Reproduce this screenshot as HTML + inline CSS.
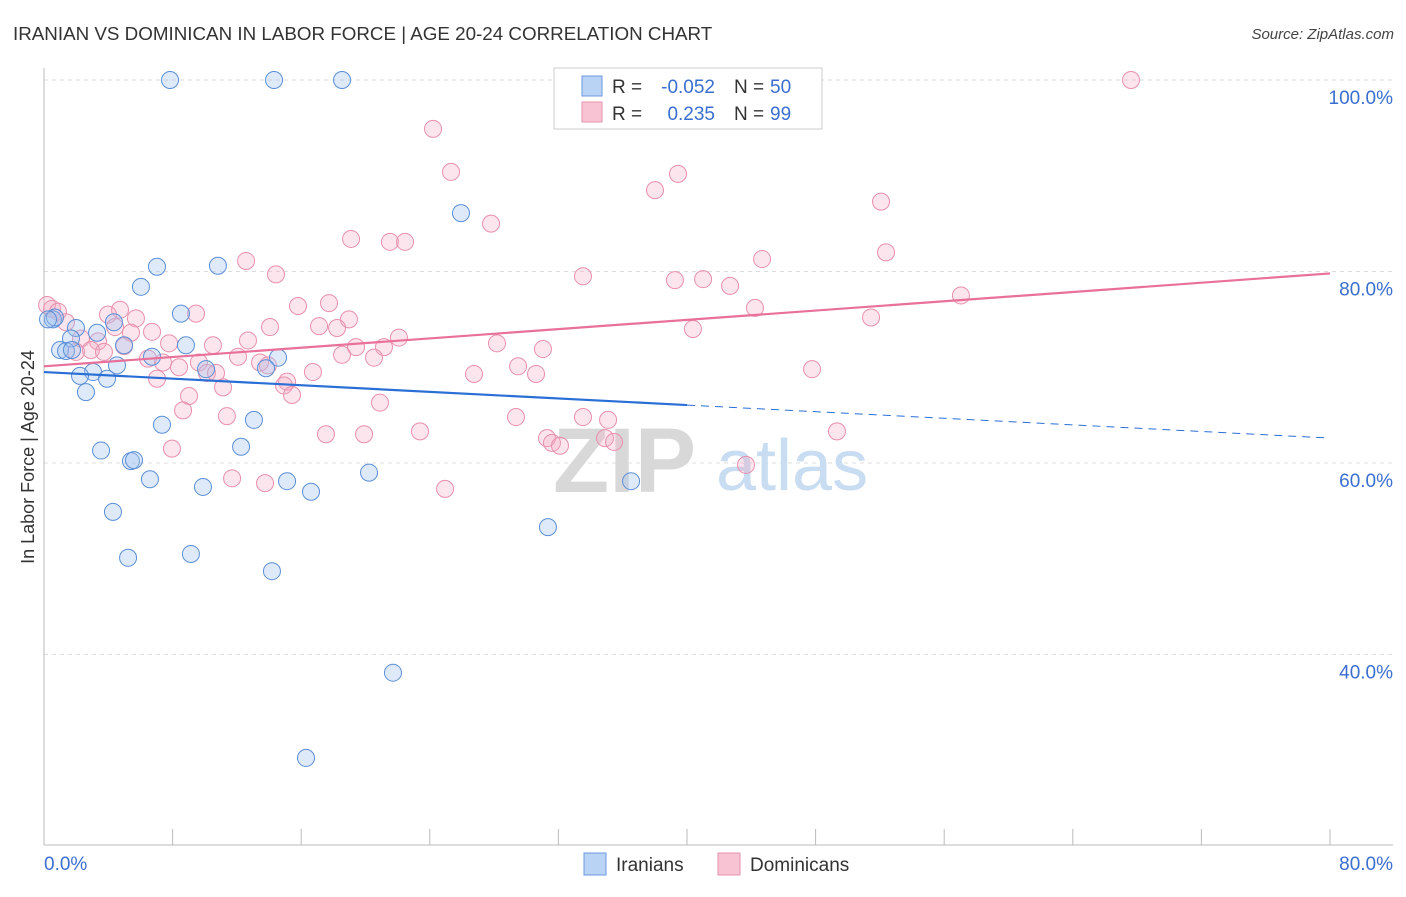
<!DOCTYPE html>
<html><head><meta charset="utf-8"><style>
body{margin:0;background:#fff;font-family:"Liberation Sans",sans-serif;}
svg text{font-family:"Liberation Sans",sans-serif;}
</style></head><body>
<svg id="chart" width="1406" height="892" viewBox="0 0 1406 892" xmlns="http://www.w3.org/2000/svg">
<text x="13" y="40" font-size="18.8" fill="#333">IRANIAN VS DOMINICAN IN LABOR FORCE | AGE 20-24 CORRELATION CHART</text>
<text x="1394" y="39" font-size="15" fill="#444" text-anchor="end" font-style="italic">Source: ZipAtlas.com</text>
<g id="grid"></g>
<g>
<text x="553" y="492" font-size="92" fill="#d8d8d8" font-family="Liberation Serif" font-weight="bold">ZIP</text>
<text x="716" y="490" font-size="72" fill="#c8dcf2">atlas</text>
</g>
<g id="marks"></g>
<text transform="translate(34,457) rotate(-90)" font-size="18" fill="#333" text-anchor="middle">In Labor Force | Age 20-24</text>
<text x="44" y="870" font-size="19" fill="#3a6fd0">0.0%</text>
<text x="1393" y="870" font-size="19" fill="#3a6fd0" text-anchor="end">80.0%</text>
<g>
<rect x="554" y="68" width="268" height="61" fill="#fff" stroke="#ccc"/>
<rect x="582" y="76" width="20" height="20" fill="#b8d3f3" stroke="#6b9ae0"/>
<rect x="582" y="102" width="20" height="20" fill="#f8c4d4" stroke="#e890ac"/>
<text x="612" y="93" font-size="19" fill="#333">R =</text>
<text x="715" y="93" font-size="19" fill="#3a6fd0" text-anchor="end">-0.052</text>
<text x="734" y="93" font-size="19" fill="#333">N =</text>
<text x="770" y="93" font-size="19" fill="#3a6fd0">50</text>
<text x="612" y="120" font-size="19" fill="#333">R =</text>
<text x="715" y="120" font-size="19" fill="#3a6fd0" text-anchor="end">0.235</text>
<text x="734" y="120" font-size="19" fill="#333">N =</text>
<text x="770" y="120" font-size="19" fill="#3a6fd0">99</text>
</g>
<g>
<rect x="584" y="853" width="22" height="22" fill="#b8d3f3" stroke="#6b9ae0"/>
<text x="616" y="871" font-size="19" fill="#333">Iranians</text>
<rect x="718" y="853" width="22" height="22" fill="#f8c4d4" stroke="#e890ac"/>
<text x="750" y="871" font-size="19" fill="#333">Dominicans</text>
</g>
</svg>
<script>
const yTicks=[40,60,80,100];
const yTickLabels=["40.0%","60.0%","80.0%","100.0%"];
const xTicks=[0,8,16,24,32,40,48,56,64,72,80];
const iranX=[7.84,14.31,18.54,25.94,7.03,10.82,6.03,8.52,0.56,0.68,0.25,4.35,1.99,3.30,1.68,4.98,8.83,1.0,1.37,6.72,14.56,4.54,10.08,13.81,3.05,2.24,3.92,2.61,7.34,13.06,12.26,3.55,5.41,5.6,6.59,9.89,15.12,16.61,20.22,36.52,4.29,31.35,9.14,5.23,14.18,21.71,16.3,1.74];
const iranY=[100,100,100,86.1,80.5,80.6,78.4,75.6,75.0,75.2,75.0,74.7,74.1,73.6,73.0,72.3,72.3,71.8,71.7,71.1,71.0,70.2,69.8,69.9,69.5,69.1,68.8,67.4,64.0,64.5,61.7,61.3,60.2,60.3,58.3,57.5,58.1,57.0,59.0,58.1,54.9,53.3,50.5,50.1,48.7,38.1,29.2,71.8];
const domX=[67.62,24.2,25.32,39.44,38.01,52.07,27.81,19.1,21.52,22.46,52.38,12.57,44.67,14.43,33.53,39.25,41.0,42.68,57.04,0.19,0.5,0.87,15.8,17.73,4.73,9.46,3.98,5.72,1.37,44.23,51.45,18.97,17.11,18.23,14.06,4.42,6.72,5.41,40.37,2.3,3.36,12.69,22.08,10.51,19.41,21.15,28.18,4.98,7.78,2.92,3.73,31.04,1.99,18.54,20.53,12.07,6.47,13.44,7.4,9.64,13.93,8.4,29.49,16.73,26.75,30.61,10.14,10.7,47.78,7.03,15.12,14.93,11.14,15.43,9.02,20.9,8.65,11.38,29.36,33.53,35.09,23.39,49.33,17.54,19.91,31.29,34.9,35.46,31.6,32.1,7.96,11.7,13.75,24.95,43.67];
const domY=[100,94.9,90.4,90.2,88.5,87.3,85.0,83.4,83.1,83.1,82.0,81.1,81.3,79.7,79.5,79.1,79.2,78.5,77.5,76.5,76.1,75.8,76.4,76.7,76.0,75.6,75.5,75.1,74.7,76.2,75.2,75.0,74.3,74.1,74.2,74.2,73.7,73.6,74.0,73.0,72.7,72.8,73.1,72.3,72.1,72.1,72.5,72.2,72.5,71.8,71.6,71.9,71.6,71.3,71.0,71.1,70.9,70.5,70.5,70.5,70.2,70.0,70.1,69.5,69.3,69.3,69.4,69.4,69.8,68.8,68.5,68.1,67.9,67.1,67.0,66.3,65.5,64.9,64.8,64.8,64.5,63.3,63.3,63.0,63.0,62.6,62.6,62.2,62.1,61.8,61.5,58.4,57.9,57.3,59.8];
const iranTrend=[69.5,62.6];
const domTrend=[70.1,79.8];
const NS="http://www.w3.org/2000/svg";
const X=v=>44+v*16.075, Y=v=>80+(100-v)*9.575;
function mk(tag,attrs,parent){const e=document.createElementNS(NS,tag);for(const k in attrs)e.setAttribute(k,attrs[k]);parent.appendChild(e);return e;}
const grid=document.getElementById('grid'), marks=document.getElementById('marks');
yTicks.forEach((t,i)=>{
 const l=mk('line',{x1:44,x2:1393,y1:Y(t),y2:Y(t),stroke:'#dcdcdc','stroke-dasharray':'4,4'},grid);
 
 
 const tx=mk('text',{x:1393,y:Y(t)+24,'font-size':19,fill:'#3a6fd0','text-anchor':'end'},grid);
 tx.textContent=yTickLabels[i];
 
 
});
let ax=mk('line',{x1:44,x2:44,y1:68,y2:845,stroke:'#bbb'},grid);


ax=mk('line',{x1:44,x2:1393,y1:845,y2:845,stroke:'#bbb'},grid);


xTicks.forEach(t=>{
 const l=mk('line',{x1:X(t),x2:X(t),y1:829,y2:845,stroke:'#bbb'},grid);
 
 
});
domX.forEach((v,i)=>{
 const c=mk('circle',{cx:X(v),cy:Y(domY[i]),r:8.5,fill:'rgba(245,170,195,0.3)',stroke:'#e890ac','stroke-width':1},marks);
 
 
});
iranX.forEach((v,i)=>{
 const c=mk('circle',{cx:X(v),cy:Y(iranY[i]),r:8.5,fill:'rgba(160,195,240,0.35)',stroke:'#5b8fd6','stroke-width':1},marks);
 
 
});
const iAt=x=>iranTrend[0]+(iranTrend[1]-iranTrend[0])*x/80;
let tl=mk('line',{x1:X(0),y1:Y(iAt(0)),x2:X(40),y2:Y(iAt(40)),stroke:'#2a6fd6','stroke-width':2.2},marks);


tl=mk('line',{x1:X(40),y1:Y(iAt(40)),x2:X(80),y2:Y(iAt(80)),stroke:'#2a6fd6','stroke-width':1,'stroke-dasharray':'8,6'},marks);


tl=mk('line',{x1:X(0),y1:Y(domTrend[0]),x2:X(80),y2:Y(domTrend[1]),stroke:'#e8709a','stroke-width':2.2},marks);


</script>
</body></html>
